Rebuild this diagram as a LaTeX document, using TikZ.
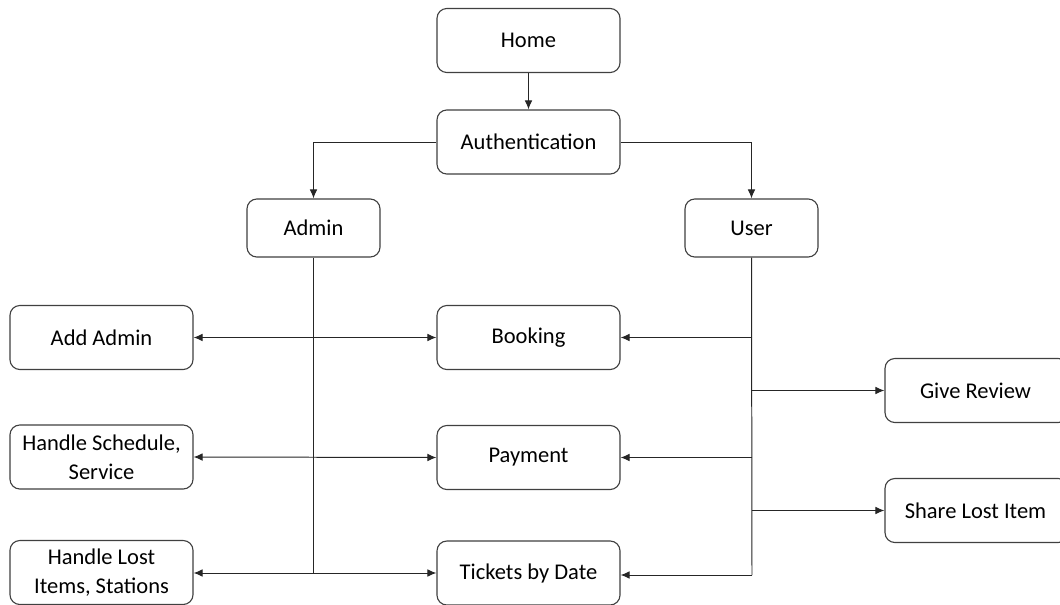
\documentclass[tikz,border=0pt]{standalone}
\usepackage{fontspec}
\setmainfont{Carlito}
\usetikzlibrary{arrows.meta}
\begin{document}
\begin{tikzpicture}[x=0.025cm,y=-0.025cm,
  box/.style={draw=black!75,line width=0.8pt,rounded corners=7pt,align=center,
    minimum width=183*0.025cm, minimum height=64*0.025cm,
    inner sep=1pt,font=\fontsize{16}{20.5}\selectfont},
  sbox/.style={box,minimum width=133*0.025cm,minimum height=58*0.025cm},
  conn/.style={line width=0.7pt,black!85},
  arr/.style={conn,-{Latex[length=6.5pt,width=5.5pt]}},
  darr/.style={conn,{Latex[length=6.5pt,width=5.5pt]}-{Latex[length=6.5pt,width=5.5pt]}}]
\clip (0,0) rectangle (1060,605);
\fill[white] (0,0) rectangle (1060,605);
\node[box] (home) at (528.5,40.5) {Home};
\node[box] (auth) at (528.5,142) {Authentication};
\node[sbox] (admin) at (313.5,228) {Admin};
\node[sbox] (user) at (751.5,228) {User};
\node[box] (addadmin) at (101.5,337.5) {Add Admin};
\node[box] (sched) at (101.5,457) {Handle Schedule,\\Service};
\node[box] (lost) at (101.5,572.5) {Handle Lost\\Items, Stations};
\node[box] (booking) at (528.5,337.5) {Booking};
\node[box] (payment) at (528.5,457.5) {Payment};
\node[box] (tickets) at (528.5,573) {Tickets by Date};
\node[box] (review) at (976.5,390.5) {};
\node[font=\fontsize{16}{20}\selectfont] (reviewt) at (975.5,390.5) {Give Review};
\node[box] (share) at (976.5,510.5) {};
\node[font=\fontsize{16}{20}\selectfont] (sharet) at (975.5,510.5) {Share Lost Item};

\draw[arr] (home) -- (auth);
\draw[arr] (auth.west) -| (admin.north);
\draw[arr] (auth.east) -| (user.north);

% admin trunk
\coordinate (abot) at (admin.south |- tickets.west);
\draw[conn] (admin.south) -- (abot);
\draw[darr] (addadmin.east) -- (booking.west);
\draw[darr] (sched.east) -- (payment.west);
\draw[darr] (lost.east |- tickets.west) -- (tickets.west);

% user trunk
\coordinate (ubot) at (752,575);
\draw[conn] (user.south) -- (ubot);
\coordinate (ub) at (752,337.5);
\coordinate (ur) at (752,390.5);
\coordinate (up) at (752,457.5);
\coordinate (us) at (752,510.5);
\draw[arr] (ub) -- (booking.east);
\draw[arr] (ur) -- (review.west);
\draw[arr] (up) -- (payment.east);
\draw[arr] (us) -- (share.west);
\draw[arr] (ubot) -- (tickets.east |- ubot);
\end{tikzpicture}
\end{document}
